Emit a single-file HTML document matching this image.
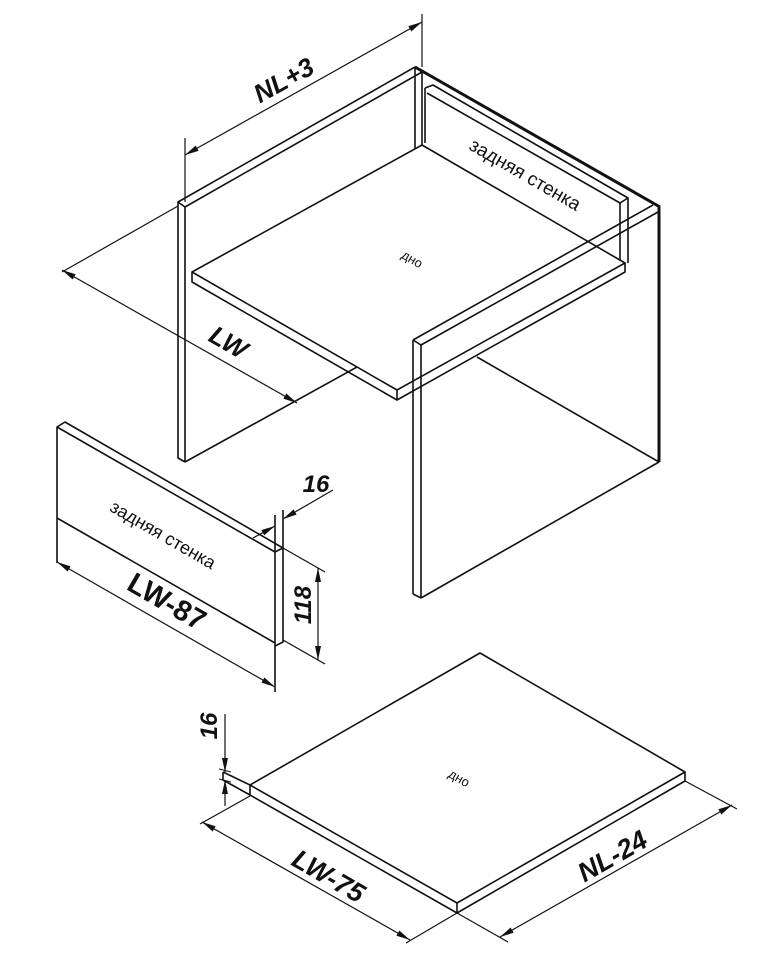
<!DOCTYPE html>
<html><head><meta charset="utf-8"><style>
html,body{margin:0;padding:0;background:#fff;}
svg{display:block;}
text{font-family:"Liberation Sans",sans-serif;fill:#111;}
</style></head><body>
<svg width="775" height="958" viewBox="0 0 775 958" xmlns="http://www.w3.org/2000/svg">
<defs>
<marker id="a" viewBox="0 0 14 6" refX="14" refY="3" markerWidth="14" markerHeight="6" orient="auto" markerUnits="userSpaceOnUse"><path d="M0,0 L14,3 L0,6 Z" fill="#111"/></marker>
<marker id="b" viewBox="0 0 14 6" refX="0" refY="3" markerWidth="14" markerHeight="6" orient="auto" markerUnits="userSpaceOnUse"><path d="M14,0 L0,3 L14,6 Z" fill="#111"/></marker>
</defs>
<g stroke="#111" stroke-width="1.6" fill="none" stroke-linejoin="round">
<polyline points="422,72 185,207 185,462"/>
<polyline points="415,67 178,202 178,458 185,462"/>
<line x1="178" y1="202" x2="185" y2="207"/>
<line x1="185" y1="462" x2="415" y2="335"/>
<line x1="415" y1="67" x2="415" y2="150"/>
<line x1="422" y1="72" x2="422" y2="145"/>
<line x1="415" y1="67" x2="422" y2="72"/>
<line x1="415" y1="67" x2="660" y2="207" stroke-width="3"/>
<polyline points="425,88 433,85 628,198 628,263"/>
<polyline points="425,88 425,143"/>
<line x1="427" y1="93" x2="620" y2="203"/>
<line x1="620" y1="203" x2="620" y2="263"/>
<line x1="620" y1="203" x2="628" y2="198"/>
<polygon points="422,145 192,272 397,390 625,263" fill="#fff"/>
<polyline points="192,272 192,282 397,400 625,272 625,263"/>
<line x1="397" y1="390" x2="397" y2="400"/>
<line x1="413" y1="340" x2="653" y2="205"/>
<line x1="421" y1="345" x2="658" y2="212"/>
<line x1="413" y1="340" x2="421" y2="345"/>
<line x1="413" y1="340" x2="413" y2="594"/>
<line x1="421" y1="345" x2="421" y2="598"/>
<line x1="413" y1="594" x2="421" y2="598"/>
<line x1="421" y1="598" x2="659" y2="462"/>
<line x1="477" y1="357" x2="659" y2="462"/>
<line x1="659" y1="207" x2="659" y2="462" stroke-width="3"/>
<line x1="422" y1="14" x2="422" y2="67" stroke-width="1.2"/>
<line x1="185" y1="138" x2="185" y2="202" stroke-width="1.2"/>
<line x1="185" y1="155" x2="422" y2="22" stroke-width="1.2" marker-end="url(#a)" marker-start="url(#b)"/>
<line x1="62" y1="272" x2="178" y2="206" stroke-width="1.2"/>
<line x1="62" y1="270" x2="297" y2="403" stroke-width="1.2" marker-end="url(#a)" marker-start="url(#b)"/>
<polyline points="57,563 57,427 65,422 283,548 283,642 275,646"/>
<line x1="57" y1="427" x2="275" y2="552"/>
<line x1="275" y1="552" x2="283" y2="548"/>
<line x1="275" y1="515" x2="275" y2="692"/>
<line x1="283" y1="510" x2="283" y2="548"/>
<line x1="57" y1="518" x2="275" y2="643"/>
<line x1="57" y1="562" x2="275" y2="687" stroke-width="1.2" marker-end="url(#a)" marker-start="url(#b)"/>
<line x1="253" y1="538" x2="275" y2="526" stroke-width="1.2" marker-end="url(#a)"/>
<line x1="333" y1="490" x2="283" y2="519" stroke-width="1.2" marker-end="url(#a)"/>
<line x1="283" y1="548" x2="325" y2="572" stroke-width="1.2"/>
<line x1="283" y1="640" x2="325" y2="664" stroke-width="1.2"/>
<line x1="318" y1="568" x2="318" y2="660" stroke-width="1.2" marker-end="url(#a)" marker-start="url(#b)"/>
<!-- bottom dno -->
<polygon points="480,653 685,772 457,903 250,785" fill="#fff"/>
<polyline points="223,772 250,785"/>
<polyline points="223,772 223,780 250,795 457,913 685,781 685,772"/>
<line x1="250" y1="785" x2="250" y2="795"/>
<line x1="457" y1="903" x2="457" y2="913"/>
<line x1="250" y1="796" x2="200" y2="824" stroke-width="1.2"/>
<line x1="457" y1="913" x2="406" y2="943" stroke-width="1.2"/>
<line x1="202" y1="822" x2="410" y2="940" stroke-width="1.2" marker-end="url(#a)" marker-start="url(#b)"/>
<line x1="457" y1="913" x2="508" y2="942" stroke-width="1.2"/>
<line x1="685" y1="781" x2="737" y2="809" stroke-width="1.2"/>
<line x1="500" y1="937" x2="732" y2="805" stroke-width="1.2" marker-end="url(#a)" marker-start="url(#b)"/>
<line x1="225" y1="714" x2="225" y2="772" stroke-width="1.2" marker-end="url(#a)"/>
<line x1="225" y1="806" x2="225" y2="780" stroke-width="1.2" marker-end="url(#a)"/>
<line x1="219" y1="769" x2="231" y2="772" stroke-width="1"/>
<line x1="219" y1="779" x2="231" y2="782" stroke-width="1"/>
</g>
<g font-weight="bold" font-style="italic">
<text x="288" y="88" font-size="26" text-anchor="middle" transform="rotate(-29 288 88)">NL+3</text>
<text x="224" y="350" font-size="26" text-anchor="middle" transform="rotate(30 224 350)">LW</text>
<text x="162" y="610" font-size="29" font-style="normal" text-anchor="middle" transform="rotate(30 162 610)">LW-87</text>
<text x="316" y="492" font-size="24" text-anchor="middle">16</text>
<text x="311" y="605" font-size="24" text-anchor="middle" transform="rotate(-90 311 605)">118</text>
<text x="217" y="726" font-size="24" text-anchor="middle" transform="rotate(-90 217 726)">16</text>
<text x="324" y="884" font-size="27" text-anchor="middle" transform="rotate(30 324 884)">LW-75</text>
<text x="617" y="864" font-size="27" text-anchor="middle" transform="rotate(-30 617 864)">NL-24</text>
</g>
<text x="522" y="180" font-size="19" text-anchor="middle" transform="rotate(30 522 180)">задняя стенка</text>
<text x="160" y="540" font-size="18" text-anchor="middle" transform="rotate(30 160 540)">задняя стенка</text>
<text x="410" y="263" font-size="13" text-anchor="middle" transform="rotate(30 410 263)">дно</text>
<text x="457" y="782" font-size="13" text-anchor="middle" transform="rotate(30 457 782)">дно</text>
</svg>
</body></html>
